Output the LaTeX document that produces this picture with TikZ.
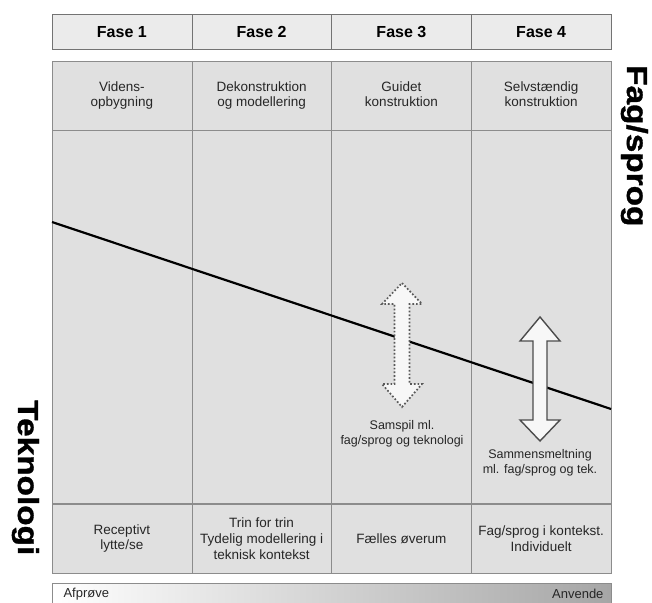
\documentclass[tikz,border=0pt]{standalone}
\usepackage{fontspec}
\setmainfont{Liberation Sans}
\newfontfamily\aksefont[FakeStretch=1.15, FakeBold=1.2]{Liberation Sans}
\usetikzlibrary{calc}

\tikzset{
  fase/.style={draw=black!55, fill=black!8, minimum width=139.75pt, minimum height=35pt,
    inner sep=0pt, text height=11.5pt, text depth=0pt, font=\bfseries\fontsize{16}{18}\selectfont},
  celle/.style={draw=black!45, fill=black!12, minimum width=139.75pt, inner sep=0pt,
    align=center, text=black!85, font=\fontsize{13.5}{15.7}\selectfont},
  akse/.style={rotate=-90, anchor=base west, inner sep=0pt, text height=22pt,
    font=\aksefont\bfseries\fontsize{29}{29}\selectfont},
  pilfyld/.style={fill=black!3, line join=miter},
}

\begin{document}
\begin{tikzpicture}[x=1pt,y=-1pt]
\useasboundingbox (0,0) rectangle (652,602);

% faser
\foreach \i in {1,...,4}
  \node[fase] (fase\i) at ({52+139.75*(\i-0.5)},31.5) {Fase \i};

% midterste felter
\foreach \i in {1,...,4}
  \node[celle, minimum height=373pt] (mid\i) at ({52+139.75*(\i-0.5)},316.5) {};

% oeverste raekke
\node[celle, minimum height=69pt, text depth=3pt] (top1) at (121.875,95.5) {Videns-\\opbygning};
\node[celle, minimum height=69pt, text depth=3pt] (top2) at (261.625,95.5) {Dekonstruktion\\og modellering};
\node[celle, minimum height=69pt, text depth=3pt] (top3) at (401.375,95.5) {Guidet\\konstruktion};
\node[celle, minimum height=69pt, text depth=3pt] (top4) at (541.125,95.5) {Selvstændig\\konstruktion};

% nederste raekke
\node[celle, minimum height=69pt] (bund1) at (121.875,538.5) {Receptivt\\lytte/se};
\node[celle, minimum height=69pt] (bund2) at (261.625,538.5) {Trin for trin\\Tydelig modellering i\\teknisk kontekst};
\node[celle, minimum height=69pt] (bund3) at (401.375,538.5) {Fælles øverum};
\node[celle, minimum height=69pt] (bund4) at (541.125,538.5) {Fag/sprog i kontekst.\\Individuelt};

% skillelinje
\coordinate (hoej) at (52,222);
\coordinate (lav) at (611,409);
\draw[line width=2.2pt] (hoej) -- (lav);

% pile
\draw[pilfyld, draw=black!65, line width=1.7pt, dash pattern=on 1.7pt off 2pt]
  (402,283) -- (422,304) -- (409.5,304) -- (409.5,384) -- (422,384) -- (402,407)
  -- (382,384) -- (394.5,384) -- (394.5,304) -- (382,304) -- cycle;
\draw[pilfyld, draw=black!70, line width=1.4pt]
  (540,317) -- (560,341) -- (547,341) -- (547,420) -- (560,420) -- (540,441)
  -- (520,420) -- (533,420) -- (533,341) -- (520,341) -- cycle;

\node[align=center, text=black!85, font=\fontsize{12.5}{15}\selectfont] (samspil) at (402,434) {Samspil ml.\\fag/sprog og teknologi};
\node[align=center, text=black!85, font=\fontsize{12.5}{15}\selectfont] (smelt) at (540,463) {Sammensmeltning\\ml. fag/sprog og tek.};

% akser
\node[akse] (fag) at (627,65) {Fag/sprog};
\node[akse] (tek) at (18,400) {Teknologi};

% progression
\shade[left color=white, right color=black!35, draw=black!45] (52,583) rectangle (611,606);
\node[anchor=west, text=black!85, font=\fontsize{13}{15}\selectfont] (afproeve) at (60,594) {Afprøve};
\node[anchor=east, text=black!85, font=\fontsize{13}{15}\selectfont] (anvende) at (607,594) {Anvende};
\end{tikzpicture}
\end{document}
